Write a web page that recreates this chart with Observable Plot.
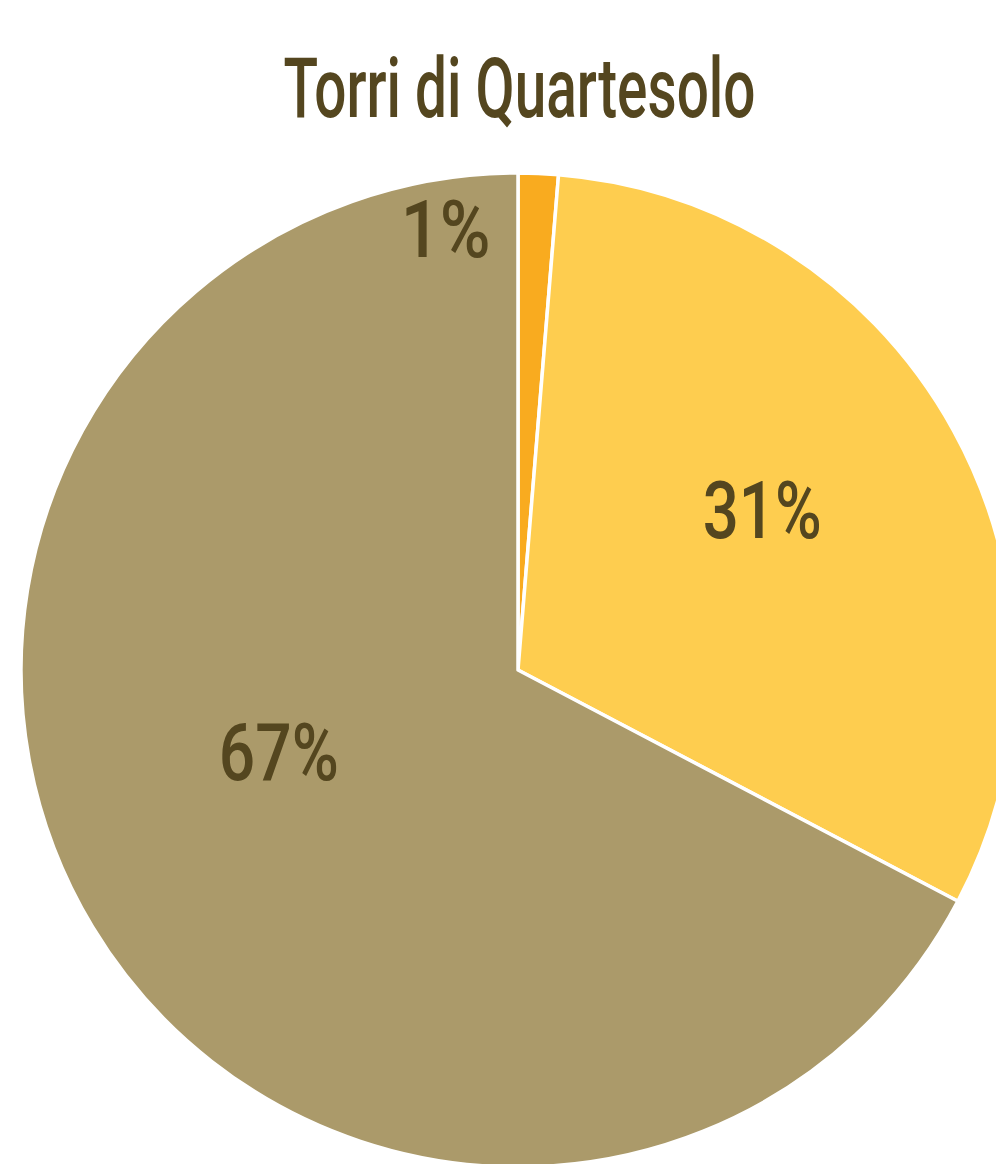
<!DOCTYPE html>
<html>
<head>
<meta charset="utf-8">
<script src="https://cdn.jsdelivr.net/npm/d3@7"></script>
<script src="https://cdn.jsdelivr.net/npm/@observablehq/plot@0.6"></script>
<style>
  html, body { margin: 0; padding: 0; background: #ffffff; overflow: hidden; }
  #chart svg { display: block; }
</style>
</head>
<body>
<div id="chart"></div>
<script>
// ---- data ----
const title = "Torri di Quartesolo";
const categories = ["Categoria A", "Categoria B", "Categoria C"];
const values = [1.3, 31.4, 67.3];
const colors = ["#F9AB1F", "#FECD4F", "#AB9A6A"];
const labelOffsets = [[-83, -191], [26, -38], [-27, -45]]; // label nudges (style)

const FONT = "Roboto, 'Liberation Sans', sans-serif";
const INK = "#54461F";

const data = categories.map((c, i) => ({category: c, value: values[i], color: colors[i]}));
const pie = d3.pie().value(d => d.value).sort(null);
const arcs = pie(data);
arcs.forEach(a => {
  const m = (a.startAngle + a.endAngle) / 2;
  a.ux = 0.5 * Math.sin(m);
  a.uy = 0.5 * Math.cos(m);
  a.label = Math.round(a.data.value) + "%";
});

function pieMark(index, scales) {
  const cx = scales.x(0), cy = scales.y(0);
  const R = scales.x(1) - scales.x(0);
  const arc = d3.arc().innerRadius(0).outerRadius(R);
  const g = d3.create("svg:g").attr("transform", `translate(${cx},${cy})`);
  g.selectAll("path").data(arcs).join("path")
    .attr("d", arc)
    .attr("fill", d => d.data.color)
    .attr("stroke", "#ffffff")
    .attr("stroke-width", 3.5)
    .attr("stroke-linejoin", "round");
  return g.node();
}

const labelMarks = arcs.map((a, i) => Plot.text([a], {
  x: "ux", y: "uy", text: "label",
  dx: labelOffsets[i][0], dy: labelOffsets[i][1],
  fontSize: 80, fontFamily: FONT, fontWeight: 500, fill: INK,
  textAnchor: "middle", lineAnchor: "middle"
}));

const plot = Plot.plot({
  width: 996,
  height: 1164,
  margin: 0,
  style: {background: "#ffffff", overflow: "hidden"},
  x: {domain: [-1, 1], range: [21, 1015], axis: null},
  y: {domain: [-1, 1], range: [1167, 173], axis: null},
  marks: [
    pieMark,
    ...labelMarks,
    Plot.text([title], {
      frameAnchor: "top", dx: 21, dy: 90, text: d => d,
      fontSize: 84, fontFamily: FONT, fontWeight: 500, fill: INK,
      textAnchor: "middle", lineAnchor: "middle"
    })
  ]
});

document.getElementById("chart").appendChild(plot);

// horizontally condense texts to the reference widths (visual style only)
const widths = {"1%": 90, "31%": 119, "67%": 120, "Torri di Quartesolo": 472};
d3.select(plot).selectAll("text").each(function() {
  const t = this.textContent;
  if (!widths[t]) return;
  const w = this.getComputedTextLength();
  if (!w) return;
  const sx = widths[t] / w;
  const tr = this.getAttribute("transform") || "";
  this.setAttribute("transform", tr + ` scale(${sx},1)`);
});
</script>
</body>
</html>
